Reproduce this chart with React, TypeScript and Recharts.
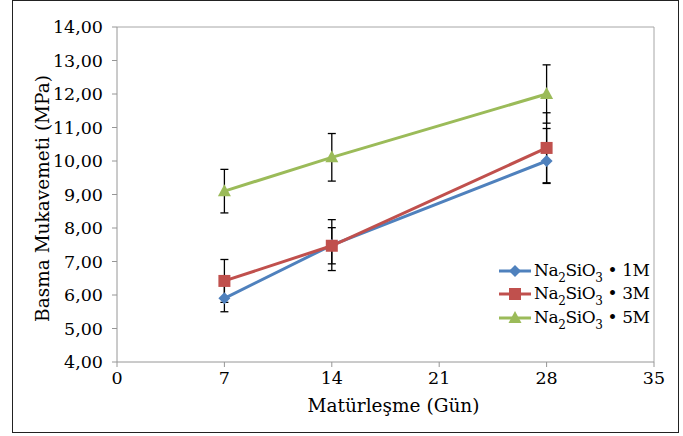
import React from 'react';
import { LineChart, Line, XAxis, YAxis, ErrorBar, ReferenceLine } from 'recharts';

const days = [7, 14, 28];
const xTicks = [0, 7, 14, 21, 28, 35];
const yTicks = [4, 5, 6, 7, 8, 9, 10, 11, 12, 13, 14];
const s1M = [5.9, 7.49, 10.0];
const s3M = [6.42, 7.47, 10.39];
const s5M = [9.1, 10.11, 12.0];
const e1M = [[0.4, 0.4], [0.76, 0.76], [0.67, 0.97]];
const e3M = [[0.64, 0.64], [0.54, 0.54], [1.04, 1.05]];
const e5M = [[0.65, 0.65], [0.71, 0.71], [0.87, 0.87]];
const seriesLabels = ['1M', '3M', '5M'];
const xTitle = 'Matürleşme (Gün)';
const yTitle = 'Basma Mukavemeti (MPa)';

const data = days.map((d, i) => ({
  day: d,
  m1: s1M[i],
  m3: s3M[i],
  m5: s5M[i],
  e1: e1M[i],
  e3: e3M[i],
  e5: e5M[i],
}));

const FONT = '"DejaVu Serif", serif';
const BLUE = '#4F81BD';
const RED = '#C0504D';
const GREEN = '#9BBB59';
const AXIS = '#969696';

const shapePath = (kind: string, cx: number, cy: number) => {
  if (kind === 'diamond') return `M${cx},${cy - 6}L${cx + 6},${cy}L${cx},${cy + 6}L${cx - 6},${cy}Z`;
  if (kind === 'square') return `M${cx - 6},${cy - 6}h12v12h-12Z`;
  return `M${cx},${cy - 7}L${cx + 6.5},${cy + 5}L${cx - 6.5},${cy + 5}Z`;
};

const makeDot = (kind: string, color: string) => (props: any) => {
  const { cx, cy, index } = props;
  if (cx == null || cy == null) return <g key={`d${index}`} />;
  return <path key={`${kind}${index}`} d={shapePath(kind, cx, cy)} fill={color} stroke="none" />;
};

const fmt = (v: number) => v.toFixed(2).replace('.', ',');

const legendItems = [
  { label: seriesLabels[0], color: BLUE, kind: 'diamond' },
  { label: seriesLabels[1], color: RED, kind: 'square' },
  { label: seriesLabels[2], color: GREEN, kind: 'triangle' },
];

const LegendBox = () => (
  <div
    style={{
      position: 'absolute',
      left: 497,
      top: 259,
      fontFamily: FONT,
      fontSize: 17,
      color: '#000',
    }}
  >
    {legendItems.map((it) => (
      <div key={it.label} style={{ display: 'flex', alignItems: 'center', height: 23.5, whiteSpace: 'nowrap' }}>
        <svg width={36} height={16} style={{ marginRight: 1 }}>
          <line x1={2} y1={8} x2={34} y2={8} stroke={it.color} strokeWidth={3} />
          <path d={shapePath(it.kind, 18, 8)} fill={it.color} />
        </svg>
        <span style={{ letterSpacing: -0.4, lineHeight: '20px' }}>
          Na<span style={{ fontSize: 12, position: 'relative', top: 6 }}>2</span>SiO
          <span style={{ fontSize: 12, position: 'relative', top: 6 }}>3</span> • {it.label}
        </span>
      </div>
    ))}
  </div>
);

export default function App() {
  return (
    <div style={{ position: 'absolute', left: 0, top: 0, width: 683, height: 436, background: '#fff' }}>
      <div
        style={{
          position: 'absolute',
          left: 12,
          top: 0,
          width: 667,
          height: 433,
          border: '1.5px solid #222',
          boxSizing: 'border-box',
        }}
      />
      <div style={{ position: 'absolute', left: 0, top: 0 }}>
        <LineChart width={683} height={436} data={data} margin={{ top: 27, right: 29, bottom: 0, left: 0 }}>
          <XAxis
            dataKey="day"
            type="number"
            domain={[0, 35]}
            ticks={xTicks}
            allowDataOverflow
            stroke={AXIS}
            tickSize={5}
            tickMargin={5}
            height={74}
            tick={{ fill: '#000', fontSize: 17.5, fontFamily: FONT }}
            label={{
              content: (p: any) => {
                const vb = p.viewBox || {};
                return (
                  <text
                    x={vb.x + vb.width / 2 + 8}
                    y={vb.y + 50}
                    textAnchor="middle"
                    fontFamily={FONT}
                    fontSize={18.5}
                    fill="#000"
                  >
                    {xTitle}
                  </text>
                );
              },
            }}
          />
          <YAxis
            type="number"
            domain={[4, 14]}
            ticks={yTicks}
            allowDataOverflow
            width={117}
            stroke={AXIS}
            tickSize={5}
            tickMargin={9}
            tickFormatter={fmt}
            tick={{ fill: '#000', fontSize: 17.5, fontFamily: FONT }}
            label={{
              content: (p: any) => {
                const vb = p.viewBox || {};
                const cy = vb.y + vb.height / 2 + 4;
                return (
                  <text
                    x={42}
                    y={cy}
                    transform={`rotate(-90 42 ${cy})`}
                    textAnchor="middle"
                    dominantBaseline="central"
                    fontFamily={FONT}
                    fontSize={18.5}
                    fill="#000"
                  >
                    {yTitle}
                  </text>
                );
              },
            }}
          />
          <ReferenceLine y={14} stroke="#a6a6a6" strokeWidth={1} />
          <ReferenceLine x={35} stroke="#a6a6a6" strokeWidth={1} />
          <Line
            dataKey="m1"
            stroke={BLUE}
            strokeWidth={3}
            dot={makeDot('diamond', BLUE)}
            activeDot={false}
            isAnimationActive={false}
          >
            <ErrorBar dataKey="e1" width={4} stroke="#000" strokeWidth={1.3} direction="y" />
          </Line>
          <Line
            dataKey="m3"
            stroke={RED}
            strokeWidth={3}
            dot={makeDot('square', RED)}
            activeDot={false}
            isAnimationActive={false}
          >
            <ErrorBar dataKey="e3" width={4} stroke="#000" strokeWidth={1.3} direction="y" />
          </Line>
          <Line
            dataKey="m5"
            stroke={GREEN}
            strokeWidth={3}
            dot={makeDot('triangle', GREEN)}
            activeDot={false}
            isAnimationActive={false}
          >
            <ErrorBar dataKey="e5" width={4} stroke="#000" strokeWidth={1.3} direction="y" />
          </Line>
        </LineChart>
      </div>
      <LegendBox />
    </div>
  );
}
